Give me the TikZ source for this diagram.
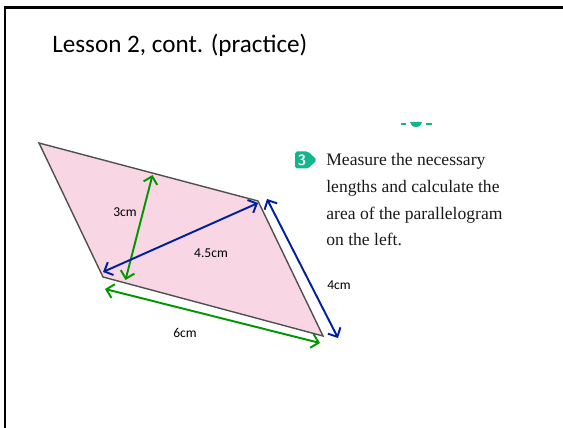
\documentclass[tikz,border=0pt]{standalone}
\usepackage{fontspec}
\setmainfont{Liberation Serif}
\newfontfamily\calib{Carlito}
\usetikzlibrary{positioning,arrows.meta,calc}
\definecolor{pinkfill}{RGB}{249,214,228}
\definecolor{edgegray}{RGB}{80,80,80}
\definecolor{dimgreen}{RGB}{0,150,0}
\definecolor{dimblue}{RGB}{0,30,160}
\definecolor{stepteal}{RGB}{20,180,140}

\begin{document}
\begin{tikzpicture}[x=0.02cm, y=-0.02cm,
  dim/.style={line width=1.1pt, {Straight Barb[length=4pt,width=8pt]}-{Straight Barb[length=4pt,width=8pt]}},
  lbl/.style={font=\calib\fontsize{7.7}{9}\selectfont, inner sep=0pt},
  task/.style={font=\fontsize{10}{15.3}\selectfont, align=left, inner sep=0pt, text=black!90}]
  \useasboundingbox (0,0) rectangle (563,428);
  % frame
  \draw[line width=1.2pt] (5,428) -- (5,7.5) -- (563,7.5);
  \node[font=\calib\fontsize{14.3}{17}\selectfont, anchor=base west, inner sep=0pt] (title) at (52,53) {Lesson 2, cont. (practice)};
  % parallelogram
  \coordinate (tl) at (39,143);
  \coordinate (tr) at (258,201);
  \coordinate (br) at (323,336);
  \coordinate (bl) at (103,277);
  \filldraw[fill=pinkfill, draw=edgegray, line width=0.8pt] (tl) -- (tr) -- (br) -- (bl) -- cycle;
  % measuring arrows
  \coordinate (h1) at (152.5,175);
  \coordinate (h2) at (125.5,280);
  \coordinate (d1) at (258,203);
  \coordinate (d2) at (103,272);
  \coordinate (b1) at (105,289);
  \coordinate (b2) at (320,343);
  \coordinate (s1) at (267,199);
  \coordinate (s2) at (338,338);
  \draw[dim, dimgreen] (h1) -- (h2);
  \draw[dim, dimblue] (d1) -- (d2);
  \draw[dim, dimgreen] (b1) -- (b2);
  \draw[dim, dimblue] (s1) -- (s2);
  \node[lbl] (lh) at (125,212) {3cm};
  \node[lbl] (ld) at (211,253) {4.5cm};
  \node[lbl] (lb) at (185,333) {6cm};
  \node[lbl] (ls) at (339,285) {4cm};
  % task text
  \fill[stepteal, rounded corners=1pt] (295,151.5) -- (308,151.5) -- (317,160) -- (308,168.5) -- (295,168.5) -- cycle;
  \node[font=\sffamily\bfseries\fontsize{8.5}{9}\selectfont, text=white, inner sep=0pt] (num) at (302,160) {3};
  \node[task, anchor=base west] (txt) at (326,246) {Measure the necessary\\lengths and calculate the\\area of the parallelogram\\on the left.};
  % teal bits at top
  \fill[stepteal] (400.5,123.5) rectangle (406,125);
  \fill[stepteal] (410,122) -- (422,122) arc[start angle=0, end angle=-180, x radius=6, y radius=-5] -- cycle;
  \fill[stepteal] (425.5,123.5) rectangle (431.5,125);
\end{tikzpicture}
\end{document}
